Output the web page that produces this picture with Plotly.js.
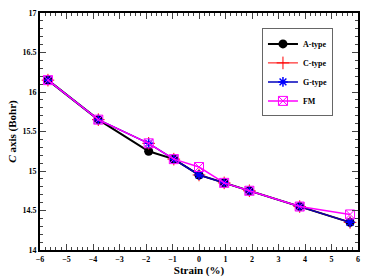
<!DOCTYPE html>
<html>
<head>
<meta charset="utf-8">
<script src="https://cdn.plot.ly/plotly-3.0.1.min.js"></script>
<style>html,body{margin:0;padding:0;background:#fff;}#chart{width:374px;height:280px;}</style>
</head>
<body>
<div id="chart"></div>
<script>
const strain = [-5.7, -3.8, -1.9, -0.95, 0, 0.95, 1.9, 3.8, 5.7];
const aType = [16.15, 15.65, 15.25, 15.15, 14.95, 14.85, 14.75, 14.55, 14.35];
const cType = [16.15, 15.65, 15.35, 15.15, 14.95, 14.85, 14.75, 14.55, 14.35];
const gType = [16.15, 15.65, 15.35, 15.15, 14.95, 14.85, 14.75, 14.55, 14.35];
const fm    = [16.15, 15.65, 15.35, 15.15, 15.05, 14.85, 14.75, 14.55, 14.45];
const seriesNames = ['A-type', 'C-type', 'G-type', 'FM'];

const serif = 'Liberation Serif, Times New Roman, serif';
const traces = [
  {x: strain, y: aType, name: seriesNames[0], mode: 'lines+markers',
   line: {color: '#000000', width: 2}, marker: {symbol: 'circle', size: 9, color: '#000000'}},
  {x: strain, y: cType, name: seriesNames[1], mode: 'lines+markers',
   line: {color: '#ff0000', width: 1}, marker: {symbol: 'cross-thin-open', size: 9, color: '#ff0000', line: {color: '#ff0000', width: 1}}},
  {x: strain, y: gType, name: seriesNames[2], mode: 'lines+markers',
   line: {color: '#0000bb', width: 1.5}, marker: {symbol: 'asterisk-open', size: 8, color: '#0000ff', line: {color: '#0000ff', width: 1.5}}},
  {x: strain, y: fm, name: seriesNames[3], mode: 'lines+markers',
   line: {color: '#ff00ff', width: 1.5}, marker: {symbol: 'square-x-open', size: 9, color: '#ff00ff', line: {color: '#ff00ff', width: 1}}}
];

const layout = {
  width: 374, height: 280,
  margin: {l: 40, r: 16, t: 13, b: 30},
  paper_bgcolor: '#fff', plot_bgcolor: '#fff',
  font: {family: serif, color: '#000'},
  showlegend: true,
  legend: {x: 0.698, y: 0.935, xanchor: 'left', yanchor: 'top',
    bgcolor: '#fff', bordercolor: '#666', borderwidth: 1,
    font: {family: serif, size: 8, weight: 'bold'}, tracegroupgap: 0, itemwidth: 30},
  xaxis: {range: [-6, 6], dtick: 1, tick0: -6, ticks: 'inside', ticklen: 6, tickwidth: 1,
    mirror: 'ticks', showline: true, linewidth: 2, linecolor: '#000', showgrid: false, zeroline: false,
    tickfont: {family: serif, size: 8, weight: 'bold'},
    minor: {dtick: 0.2, ticks: 'inside', ticklen: 3, showgrid: false},
    title: {text: '<b>Strain (%)</b>', font: {family: serif, size: 11}, standoff: 2}},
  yaxis: {range: [14, 17], dtick: 0.5, tick0: 14, ticks: 'inside', ticklen: 6, tickwidth: 1,
    mirror: 'ticks', showline: true, linewidth: 2, linecolor: '#000', showgrid: false, zeroline: false,
    tickfont: {family: serif, size: 8, weight: 'bold'},
    minor: {dtick: 0.1, ticks: 'inside', ticklen: 3, showgrid: false},
    title: {text: '<b><i>C</i> axis (Bohr)</b>', font: {family: serif, size: 11}, standoff: 4}}
};

Plotly.newPlot('chart', traces, layout, {displayModeBar: false, staticPlot: true});
</script>
</body>
</html>
